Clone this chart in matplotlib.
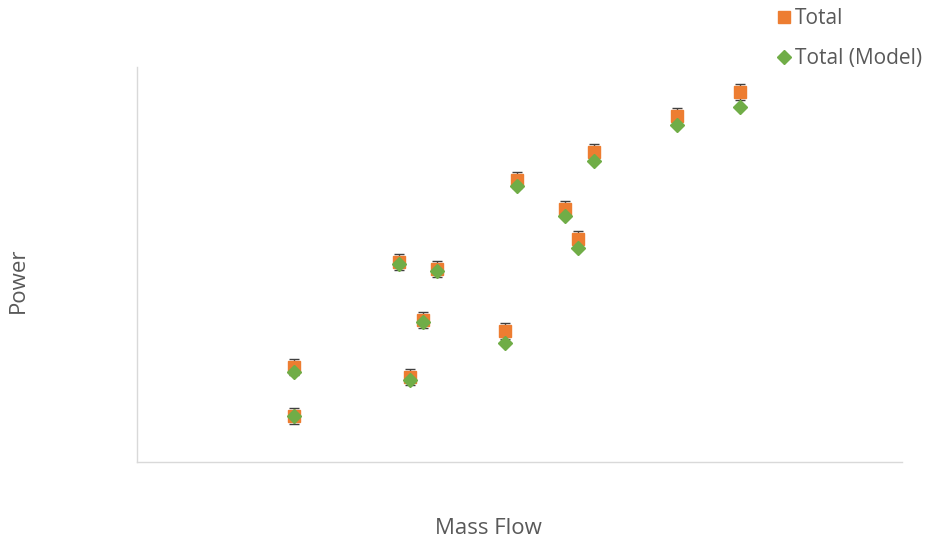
import matplotlib.pyplot as plt

# Measured power vs mass flow, with model prediction (arbitrary units)
mass_flow = [2.05, 2.05, 3.42, 3.92, 3.74, 3.57, 4.81, 4.97, 5.59, 5.76, 5.98, 7.06, 7.88]
power_total = [2.41, 1.16, 5.06, 4.89, 3.59, 2.15, 3.32, 7.14, 6.41, 5.65, 7.85, 8.76, 9.37]
power_model = [2.28, 1.16, 5.01, 4.84, 3.54, 2.08, 3.01, 6.99, 6.23, 5.42, 7.62, 8.53, 8.99]
power_err = [0.2, 0.2, 0.2, 0.2, 0.2, 0.2, 0.2, 0.2, 0.2, 0.2, 0.2, 0.2, 0.2]

ORANGE = "#ED7D31"
GREEN = "#70AD47"
GREY = "#595959"

fig = plt.figure(figsize=(9.28, 5.48), dpi=100)
ax = fig.add_axes([0.1476, 0.157, 0.8244, 0.721])

ax.errorbar(mass_flow, power_total, yerr=power_err, fmt="none",
            ecolor="#404040", elinewidth=1, capsize=3.5, capthick=1, zorder=2)
ax.plot(mass_flow, power_total, "s", color=ORANGE, markersize=8.5,
        linestyle="none", label="Total", zorder=3)
ax.plot(mass_flow, power_model, "D", color=GREEN, markersize=7,
        linestyle="none", label="Total (Model)", zorder=4)

ax.set_xlim(0, 10)
ax.set_ylim(0, 10)
ax.set_xticks([])
ax.set_yticks([])
for side in ("top", "right"):
    ax.spines[side].set_visible(False)
for side in ("left", "bottom"):
    ax.spines[side].set_color("#d9d9d9")
    ax.spines[side].set_linewidth(1)

fig.text(0.526, 0.036, "Mass Flow", ha="center", va="center",
         fontsize=16, color=GREY, family="Open Sans")
fig.text(0.020, 0.489, "Power", ha="center", va="center", rotation=90,
         fontsize=16, color=GREY, family="Open Sans")

leg = fig.legend(loc="upper left", bbox_to_anchor=(0.813, 1.019), frameon=False,
                 handletextpad=0.05, handlelength=1.0, labelspacing=0.9,
                 prop={"family": "Open Sans", "size": 15})
for text in leg.get_texts():
    text.set_color(GREY)

fig.savefig("out.png", dpi=100)
